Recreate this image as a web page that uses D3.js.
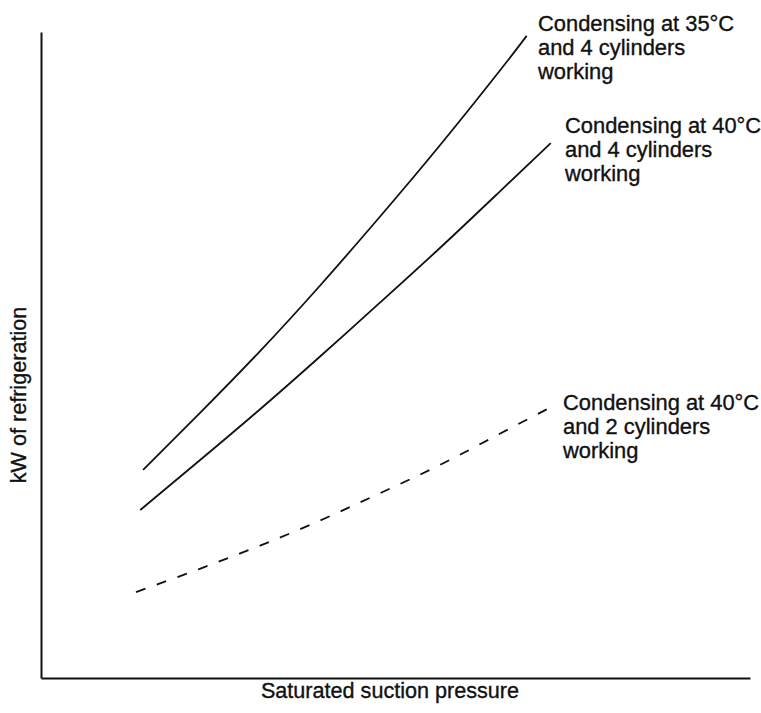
<!DOCTYPE html>
<html>
<head>
<meta charset="utf-8">
<script src="https://cdn.jsdelivr.net/npm/d3@7"></script>
<style>
  html, body { margin: 0; padding: 0; background: #fff; }
  svg { display: block; }
  text { font-family: "Liberation Sans", Arial, Helvetica, sans-serif; fill: #111; stroke: #111; stroke-width: 0.35; }
</style>
</head>
<body>
<script>
// Data (arbitrary units; no numeric axes in the original)
const suctionPressure = [1.44, 2.24, 3.09, 3.94, 4.78, 5.63, 6.47, 6.85];
const kw35c4cyl       = [3.22, 4.10, 5.06, 6.08, 7.14, 8.25, 9.40, 9.94];

const suctionPressure2 = [1.40, 2.24, 3.09, 3.94, 4.78, 5.63, 6.47, 7.19];
const kw40c4cyl        = [2.60, 3.37, 4.16, 4.98, 5.81, 6.66, 7.53, 8.28];

const suctionPressure3 = [1.34, 2.24, 3.09, 3.94, 4.78, 5.63, 6.47, 7.17];
const kw40c2cyl        = [1.33, 1.69, 2.05, 2.44, 2.86, 3.30, 3.78, 4.18];

const seriesLabels = [
  ["Condensing at 35°C", "and 4 cylinders", "working"],
  ["Condensing at 40°C", "and 4 cylinders", "working"],
  ["Condensing at 40°C", "and 2 cylinders", "working"]
];
const xTitle = "Saturated suction pressure";
const yTitle = "kW of refrigeration";

const W = 761, H = 713;
const svg = d3.select("body").append("svg").attr("width", W).attr("height", H);

const x = d3.scaleLinear().domain([0, 10]).range([41, 750]);
const y = d3.scaleLinear().domain([0, 10]).range([678, 32]);

// Axes (plain lines, no ticks)
const xAxis = d3.axisBottom(x).tickValues([]).tickSizeOuter(0);
const yAxis = d3.axisLeft(y).tickValues([]).tickSizeOuter(0);
svg.append("g").attr("transform", `translate(0,${y(0)})`).call(xAxis)
  .select(".domain").attr("stroke", "#111").attr("stroke-width", 2);
svg.append("g").attr("transform", `translate(${x(0)},0)`).call(yAxis)
  .select(".domain").attr("stroke", "#111").attr("stroke-width", 2);

const line = d3.line().x(d => x(d[0])).y(d => y(d[1])).curve(d3.curveNatural);

const series = [
  { xs: suctionPressure,  ys: kw35c4cyl, dash: null },
  { xs: suctionPressure2, ys: kw40c4cyl, dash: null },
  { xs: suctionPressure3, ys: kw40c2cyl, dash: "10,12" }
];

series.forEach(s => {
  const pts = s.xs.map((v, i) => [v, s.ys[i]]);
  svg.append("path")
    .attr("d", line(pts))
    .attr("fill", "none")
    .attr("stroke", "#111")
    .attr("stroke-width", 1.8)
    .attr("stroke-dasharray", s.dash);
});

// Series labels
const labelPos = [[538, 31], [565, 133], [563, 410]];
const lineH = 24;
seriesLabels.forEach((lines, i) => {
  const t = svg.append("text")
    .attr("x", labelPos[i][0]).attr("y", labelPos[i][1])
    .attr("font-size", 21.9);
  lines.forEach((ln, j) => {
    t.append("tspan").attr("x", labelPos[i][0]).attr("dy", j === 0 ? 0 : lineH).text(ln);
  });
});

// Axis titles
svg.append("text")
  .attr("x", 390).attr("y", 698)
  .attr("text-anchor", "middle")
  .attr("font-size", 21.6)
  .text(xTitle);

svg.append("text")
  .attr("transform", "translate(26,395) rotate(-90)")
  .attr("text-anchor", "middle")
  .attr("font-size", 21.6)
  .text(yTitle);
</script>
</body>
</html>
